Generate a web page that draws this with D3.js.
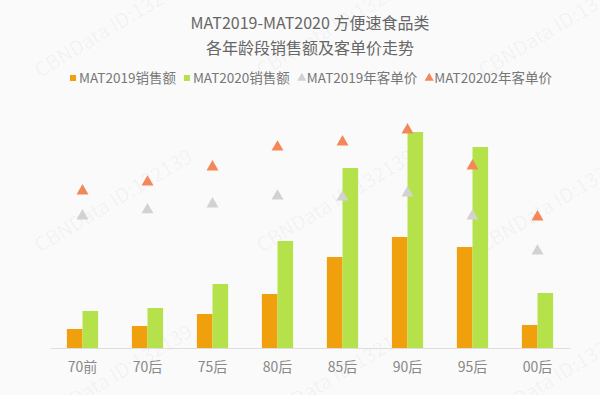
<!DOCTYPE html>
<meta charset="utf-8">
<title>MAT2019-MAT2020 方便速食品类</title>
<script src="https://cdn.jsdelivr.net/npm/d3@7"></script>
<style>
html, body {
    margin: 0;
    background: #fafafa;
}
svg {
    display: block;
    font-family: "Noto Sans CJK SC", "Noto Sans", sans-serif;
}
</style>
<body>
<script>
// values (sales in relative units, price in yuan-ish units)
var categories = ["70前", "70后", "75后", "80后", "85后", "90后", "95后", "00后"];
var sales2019 = [19, 22, 34, 54, 91, 111, 101, 23];
var sales2020 = [37, 40, 64, 107, 180, 216, 201, 55];
var price2019 = [38.5, 40.3, 42, 44.3, 44, 45.2, 38.5, 28.3];
var price2020 = [45.8, 48.4, 52.8, 58.6, 60.1, 63.6, 53.1, 38.2];
var titleLines = ["MAT2019-MAT2020 方便速食品类", "各年龄段销售额及客单价走势"];
var legendLabels = ["MAT2019销售额", "MAT2020销售额", "MAT2019年客单价", "MAT20202年客单价"];

var width = 600,
    height = 395;

var colors = ["#f0a00c", "#b5e24a", "#d2d2d2", "#f4875a"];

var svg = d3.select("body").append("svg")
    .attr("width", width)
    .attr("height", height);

// watermark, tiled like the source image
var marks = [];
[78, 253, 428].forEach(function(y) {
    [40, 262, 484].forEach(function(x) { marks.push([x, y]); });
});
svg.append("g").selectAll("text")
    .data(marks)
    .enter().append("text")
    .attr("transform", function(d) { return "translate(" + d + ")rotate(-31)"; })
    .attr("font-size", 20)
    .attr("fill", "#000")
    .attr("fill-opacity", 0.045)
    .text("CBNData ID:132139");

// title
svg.append("g").selectAll("text")
    .data(titleLines)
    .enter().append("text")
    .attr("x", 310)
    .attr("y", function(d, i) { return 23 + i * 25; })
    .attr("dy", "0.35em")
    .attr("text-anchor", "middle")
    .attr("font-size", 16)
    .attr("fill", "#666")
    .text(function(d) { return d; });

var x = d3.scaleBand()
    .domain(categories)
    .range([50, 570])
    .paddingInner(0.52)
    .paddingOuter(0.26);

var x1 = d3.scaleBand()
    .domain([0, 1])
    .range([0, x.bandwidth()]);

var y = d3.scaleLinear()
    .domain([0, 240])
    .range([348, 108]);

var yPrice = d3.scaleLinear()
    .domain([0, 70])
    .range([348, 108]);

// bars
[sales2019, sales2020].forEach(function(series, s) {
    svg.append("g").selectAll("rect")
        .data(series)
        .enter().append("rect")
        .attr("x", function(d, i) { return x(categories[i]) + x1(s); })
        .attr("y", function(d) { return y(d); })
        .attr("width", x1.bandwidth())
        .attr("height", function(d) { return y(0) - y(d); })
        .attr("fill", colors[s]);
});

// axis
var axis = svg.append("g")
    .attr("transform", "translate(0," + y(0) + ")")
    .call(d3.axisBottom(x).tickSize(0).tickPadding(14));
axis.select(".domain").attr("stroke", "#dedede");
axis.selectAll("text")
    .attr("font-size", 14)
    .attr("font-family", "\"Noto Sans CJK SC\", sans-serif")
    .attr("fill", "#888");

// price markers
var tri = d3.symbol().type(d3.symbolTriangle).size(62);
[price2019, price2020].forEach(function(series, s) {
    svg.append("g").selectAll("path")
        .data(series)
        .enter().append("path")
        .attr("transform", function(d, i) {
            return "translate(" + (x(categories[i]) + x.bandwidth() / 2) + "," + yPrice(d) + ")";
        })
        .attr("d", tri)
        .attr("fill", colors[s + 2]);
});

// legend
var legend = svg.append("g").attr("transform", "translate(0,78)");
var lx = 70;
legendLabels.forEach(function(label, i) {
    var item = legend.append("g").attr("transform", "translate(" + lx + ",0)");
    if (i < 2) {
        item.append("rect")
            .attr("x", 0).attr("y", -3)
            .attr("width", 6).attr("height", 6)
            .attr("fill", colors[i]);
    } else {
        item.append("path")
            .attr("transform", "translate(4,0)")
            .attr("d", d3.symbol().type(d3.symbolTriangle).size(36))
            .attr("fill", colors[i]);
    }
    var t = item.append("text")
        .attr("x", 9)
        .attr("dy", "0.35em")
        .attr("font-size", 13.5)
        .attr("fill", "#777")
        .text(label);
    lx += 9 + t.node().getComputedTextLength() + 8;
});
</script>
</body>
